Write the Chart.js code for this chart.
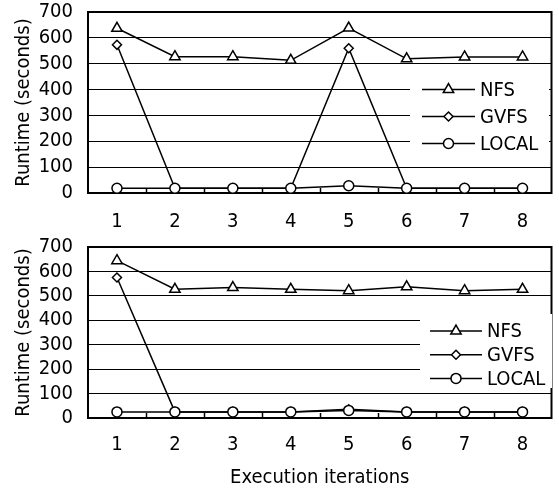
<!DOCTYPE html>
<html lang="en">
<head>
<meta charset="UTF-8">
<title>Runtime per execution iteration</title>
<script src="https://cdn.jsdelivr.net/npm/chart.js@4.4.1/dist/chart.umd.min.js"></script>
<style>
    html, body { margin: 0; padding: 0; background: #fff; }
    body { width: 559px; height: 492px; position: relative; overflow: hidden; }
    .panel { position: absolute; left: 0; width: 559px; }
    #topPanel { top: 0; height: 240px; }
    #bottomPanel { top: 230px; height: 262px; }
</style>
</head>
<body>
<div class="panel" id="topPanel"><canvas id="topChart" width="559" height="240"></canvas></div>
<div class="panel" id="bottomPanel"><canvas id="bottomChart" width="559" height="262"></canvas></div>
<script>
    // x categories and y ticks
    const iterations = ['1', '2', '3', '4', '5', '6', '7', '8'];
    const yTicks = [0, 100, 200, 300, 400, 500, 600, 700];

    // top panel (seconds)
    const topNFS = [637, 527, 527, 513, 638, 519, 526, 526];
    const topGVFS = [573, 18, 18, 18, 560, 18, 18, 18];
    const topLOCAL = [18, 18, 18, 18, 28, 18, 18, 18];

    // bottom panel (seconds)
    const bottomNFS = [644, 527, 534, 527, 521, 537, 521, 527];
    const bottomGVFS = [575, 25, 25, 25, 36, 25, 25, 25];
    const bottomLOCAL = [25, 25, 25, 25, 31, 25, 25, 25];

    const FAMILY = '"DejaVu Sans Condensed", "Liberation Sans", sans-serif';
    const FONT = { family: FAMILY, size: 20 };
    Chart.defaults.font.family = FAMILY;

    // small marker painter used by the legend
    function drawMarker(ctx, style, x, y, r) {
        ctx.beginPath();
        if (style === 'triangle') {
            for (let k = 0; k < 3; k++) {
                const a = k * 2 * Math.PI / 3;
                const px = x + Math.sin(a) * r, py = y - Math.cos(a) * r;
                k === 0 ? ctx.moveTo(px, py) : ctx.lineTo(px, py);
            }
        } else if (style === 'rectRot') {
            ctx.moveTo(x - r, y);
            ctx.lineTo(x, y - r);
            ctx.lineTo(x + r, y);
            ctx.lineTo(x, y + r);
        } else {
            ctx.arc(x, y, r, 0, Math.PI * 2);
        }
        ctx.closePath();
        ctx.fill();
        ctx.stroke();
    }

    // frame round the plot + short inward ticks between categories
    const framePlugin = {
        id: 'frame',
        beforeDatasetsDraw(chart) {
            const { ctx, chartArea: a } = chart;
            const xs = chart.scales.x;
            ctx.save();
            ctx.strokeStyle = '#000';
            ctx.lineWidth = 1.5;
            for (let i = 1; i < chart.data.labels.length; i++) {
                const px = Math.round((xs.getPixelForValue(i - 1) + xs.getPixelForValue(i)) / 2) + 0.5;
                ctx.beginPath();
                ctx.moveTo(px, a.bottom);
                ctx.lineTo(px, a.bottom - 5);
                ctx.stroke();
            }
            ctx.lineWidth = 2;
            ctx.strokeRect(a.left, a.top, a.right - a.left, a.bottom - a.top);
            ctx.restore();
        }
    };

    // legend as line + marker + label, on a white box
    const lineLegend = {
        id: 'lineLegend',
        afterDraw(chart, args, o) {
            const ctx = chart.ctx;
            ctx.save();
            ctx.fillStyle = '#fff';
            ctx.fillRect(o.x, o.y, o.w, o.h);
            ctx.font = '20px ' + FAMILY;
            ctx.textBaseline = 'middle';
            chart.data.datasets.forEach((ds, i) => {
                const y = o.rowY + i * o.rowH;
                ctx.strokeStyle = '#000';
                ctx.lineWidth = 1.5;
                ctx.beginPath();
                ctx.moveTo(o.lineX, y);
                ctx.lineTo(o.lineX + o.lineLen, y);
                ctx.stroke();
                ctx.fillStyle = '#fff';
                drawMarker(ctx, ds.pointStyle, o.lineX + o.lineLen / 2, y, ds.pointRadius);
                ctx.fillStyle = '#000';
                ctx.fillText(ds.label, o.lineX + o.lineLen + 5, y + 1);
            });
            ctx.restore();
        }
    };

    function series(label, data, style, radius, order) {
        return {
            label: label,
            data: data,
            borderColor: '#000',
            borderWidth: 1.5,
            pointStyle: style,
            pointRadius: radius,
            pointBackgroundColor: '#fff',
            pointBorderColor: '#000',
            pointBorderWidth: 1.5,
            tension: 0,
            clip: false,
            order: order
        };
    }

    function makeChart(id, nfs, gvfs, local, cfg) {
        return new Chart(document.getElementById(id), {
            type: 'line',
            data: {
                labels: iterations,
                datasets: [
                    series('NFS', nfs, 'triangle', 6, 2),
                    series('GVFS', gvfs, 'rectRot', 4.5, 1),
                    series('LOCAL', local, 'circle', 5, 0)
                ]
            },
            plugins: [framePlugin, lineLegend],
            options: {
                responsive: false,
                animation: false,
                layout: { padding: { left: 0, right: 5, top: cfg.padTop, bottom: 0 } },
                scales: {
                    x: {
                        offset: true,
                        afterFit: s => {
                            s.height = cfg.xHeight;
                            s.paddingLeft = 0;
                            s.paddingRight = 0;
                        },
                        ticks: { color: '#000', font: FONT, padding: cfg.xPad, autoSkip: false },
                        grid: { display: false, drawTicks: false },
                        border: { display: false },
                        title: {
                            display: !!cfg.xTitle,
                            text: cfg.xTitle || '',
                            color: '#000',
                            font: FONT,
                            padding: { top: 0, bottom: 2 }
                        }
                    },
                    y: {
                        min: yTicks[0],
                        max: yTicks[yTicks.length - 1],
                        afterFit: s => {
                            s.width = 88;
                            s.paddingTop = 0;
                            s.paddingBottom = 0;
                        },
                        ticks: {
                            stepSize: yTicks[1] - yTicks[0],
                            autoSkip: false,
                            color: '#000',
                            font: FONT,
                            padding: 15
                        },
                        grid: { color: '#000', lineWidth: 1, drawTicks: false },
                        border: { display: false },
                        title: {
                            display: true,
                            text: 'Runtime (seconds)',
                            color: '#000',
                            font: FONT,
                            padding: { top: 12, bottom: 0 }
                        }
                    }
                },
                plugins: {
                    legend: { display: false },
                    tooltip: { enabled: false },
                    lineLegend: cfg.legend
                }
            }
        });
    }

    makeChart('topChart', topNFS, topGVFS, topLOCAL, {
        padTop: 12, xHeight: 47, xPad: 17,
        legend: { x: 410, y: 72, w: 139, h: 86, rowY: 89.5, rowH: 27, lineX: 422, lineLen: 53 }
    });

    makeChart('bottomChart', bottomNFS, bottomGVFS, bottomLOCAL, {
        padTop: 17, xHeight: 74, xPad: 15, xTitle: 'Execution iterations',
        legend: { x: 420, y: 84, w: 132, h: 74, rowY: 101, rowH: 23.7, lineX: 430, lineLen: 52 }
    });
</script>
</body>
</html>
